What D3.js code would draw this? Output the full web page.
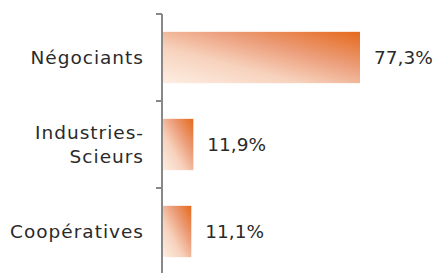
<!DOCTYPE html>
<html>
<head>
<meta charset="utf-8">
<script src="https://cdn.jsdelivr.net/npm/d3@7"></script>
<style>
  body { margin: 0; background: #fff; }
  svg text { font-family: "DejaVu Sans", sans-serif; fill: #2a2a2a; }
</style>
</head>
<body>
<svg width="433" height="273"></svg>
<script>
// Data
const categories = ["Négociants", "Industries-\nScieurs", "Coopératives"];
const shares = [77.3, 11.9, 11.1];
const shareLabels = ["77,3%", "11,9%", "11,1%"];

const svg = d3.select("svg");
const x0 = 162;

// Scales
const y = d3.scaleBand()
    .domain(categories)
    .range([14, 275])
    .paddingInner(0.41)
    .paddingOuter(0.205);

const x = d3.scaleLinear()
    .domain([0, 77.3])
    .range([x0 + 1, 360]);

// Gradient fill, pale bottom-left to orange top-right
const defs = svg.append("defs");
const grad = defs.append("linearGradient")
    .attr("id", "barGrad")
    .attr("x1", "0").attr("y1", "1")
    .attr("x2", "1").attr("y2", "0");
grad.append("stop").attr("offset", "0%").attr("stop-color", "#fdeee2");
grad.append("stop").attr("offset", "35%").attr("stop-color", "#f7d2bd");
grad.append("stop").attr("offset", "65%").attr("stop-color", "#ec9d79");
grad.append("stop").attr("offset", "100%").attr("stop-color", "#e5691b");

// Bars
svg.append("g")
    .selectAll("rect")
    .data(categories)
    .enter()
    .append("rect")
        .attr("x", x(0))
        .attr("y", d => y(d))
        .attr("width", (d, i) => x(shares[i]) - x(0))
        .attr("height", y.bandwidth())
        .attr("fill", "url(#barGrad)");

// Value labels
svg.append("g")
    .selectAll("text")
    .data(categories)
    .enter()
    .append("text")
        .attr("x", (d, i) => x(shares[i]) + 14)
        .attr("y", d => y(d) + y.bandwidth() / 2)
        .attr("dy", "0.36em")
        .style("font-size", "18.5px")
        .text((d, i) => shareLabels[i]);

// Axis: vertical line with ticks at band boundaries
const axis = svg.append("g");
axis.append("line")
    .attr("x1", x0).attr("x2", x0)
    .attr("y1", 14).attr("y2", 273)
    .attr("stroke", "#888").attr("stroke-width", 2);

const step = y.step();
const boundaries = d3.range(categories.length).map(i => 14 + i * step);
axis.selectAll(".tick")
    .data(boundaries)
    .enter()
    .append("line")
        .attr("x1", x0 - 6).attr("x2", x0)
        .attr("y1", d => d).attr("y2", d => d)
        .attr("stroke", "#888").attr("stroke-width", 2);

// Category labels (may span two lines)
categories.forEach(function(cat) {
    const lines = cat.split("\n");
    const cy = y(cat) + y.bandwidth() / 2;
    const t = svg.append("text")
        .attr("text-anchor", "end")
        .style("font-size", "18.5px")
        .style("letter-spacing", "1px");
    lines.forEach(function(line, j) {
        t.append("tspan")
            .attr("x", 144)
            .attr("y", cy + (j - (lines.length - 1) / 2) * 24)
            .attr("dy", "0.36em")
            .text(line);
    });
});
</script>
</body>
</html>
